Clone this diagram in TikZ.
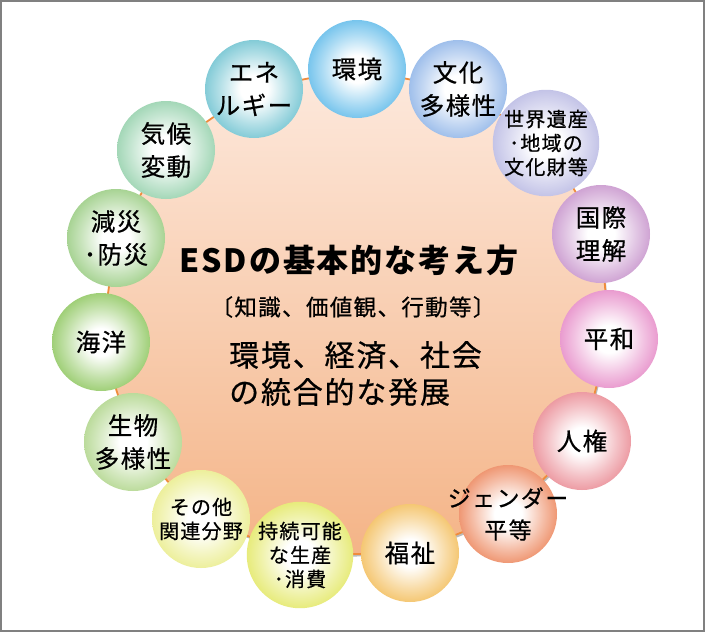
\documentclass[tikz,border=0pt]{standalone}
\usepackage{fontspec}
\newfontfamily\jp[LetterSpace=6]{Noto Sans CJK JP}
\newfontfamily\jpm[LetterSpace=6,FakeBold=0.6]{Noto Sans CJK JP}
\colorlet{ballc}{white}
\pgfdeclareradialshading[ballc]{myball}{\pgfpoint{0bp}{0bp}}{color(0bp)=(white); color(7bp)=(white); color(18bp)=(ballc!50!white); color(27bp)=(ballc!88!white); color(33bp)=(ballc); color(50bp)=(ballc)}
\definecolor{k1}{RGB}{85,182,232}
\definecolor{k2}{RGB}{135,175,230}
\definecolor{k3}{RGB}{180,180,225}
\definecolor{k4}{RGB}{195,140,200}
\definecolor{k5}{RGB}{228,130,195}
\definecolor{k6}{RGB}{232,130,140}
\definecolor{k7}{RGB}{235,125,80}
\definecolor{k8}{RGB}{242,185,80}
\definecolor{k9}{RGB}{225,230,90}
\definecolor{k10}{RGB}{232,235,130}
\definecolor{k11}{RGB}{170,210,130}
\definecolor{k12}{RGB}{135,195,85}
\definecolor{k13}{RGB}{145,200,120}
\definecolor{k14}{RGB}{140,205,165}
\definecolor{k15}{RGB}{100,190,205}
\definecolor{hubline}{RGB}{240,140,60}
\definecolor{hubtop}{RGB}{253,233,221}
\definecolor{hubbot}{RGB}{244,180,135}
\definecolor{framec}{RGB}{128,128,128}
\tikzset{
  ball/.style={circle, minimum size=98pt, inner sep=0pt, shade, shading=myball,
    align=center, font=\jpm\fontsize{24.5}{33}\selectfont},
  smalltext/.style={font=\jpm\fontsize{20}{24}\selectfont},
  bc/.code={\colorlet{ballc}{#1}},
  hub/.style={draw=hubline, line width=1.8pt, top color=hubtop, bottom color=hubbot, line join=round},
  hubshadow/.style={fill=black!45, opacity=0.6, transform canvas={shift={(1.5pt,-2.5pt)}}},
  frame/.style={draw=framec, line width=2pt}
}
\begin{document}
\begin{tikzpicture}[x=1pt,y=-1pt]
\useasboundingbox (0,0) rectangle (705,632);
\fill[white] (0,0) rectangle (705,632);
\draw[frame] (1,1) rectangle (704,631);
\coordinate (c1) at (357,69);
\coordinate (c2) at (458,89);
\coordinate (c3) at (546,143);
\coordinate (c4) at (601,234);
\coordinate (c5) at (609,339);
\coordinate (c6) at (582,441);
\coordinate (c7) at (508,514);
\coordinate (c8) at (410,553);
\coordinate (c9) at (300,555);
\coordinate (c10) at (201,519);
\coordinate (c11) at (133,442);
\coordinate (c12) at (101,342);
\coordinate (c13) at (116,238);
\coordinate (c14) at (166,150);
\coordinate (c15) at (254,89);
\fill[hubshadow] (c1) -- (c2) -- (c3) -- (c4) -- (c5) -- (c6) -- (c7) -- (c8) -- (c9) -- (c10) -- (c11) -- (c12) -- (c13) -- (c14) -- (c15) -- cycle;
\path[hub] (c1) -- (c2) -- (c3) -- (c4) -- (c5) -- (c6) -- (c7) -- (c8) -- (c9) -- (c10) -- (c11) -- (c12) -- (c13) -- (c14) -- (c15) -- cycle;
\node[ball, bc=k1] (n1) at (c1) {環境};
\node[ball, bc=k2] (n2) at (c2) {文化\\多様性};
\node[ball, bc=k3, smalltext] (n3) at (c3) {世界遺産\\･地域の\\文化財等};
\node[ball, bc=k4] (n4) at (c4) {国際\\理解};
\node[ball, bc=k5] (n5) at (c5) {平和};
\node[ball, bc=k6] (n6) at (c6) {人権};
\node[ball, bc=k7, font=\jpm\fontsize{23}{32}\selectfont] (n7) at (c7) {\makebox[0pt][c]{ジェンダー}\\平等};
\node[ball, bc=k8] (n8) at (c8) {福祉};
\node[ball, bc=k9, smalltext] (n9) at (c9) {持続可能\\な生産\\･消費};
\node[ball, bc=k10, smalltext] (n10) at (c10) {その他\\関連分野};
\node[ball, bc=k11] (n11) at (c11) {生物\\多様性};
\node[ball, bc=k12] (n12) at (c12) {海洋};
\node[ball, bc=k13] (n13) at (c13) {減災\\･防災};
\node[ball, bc=k14] (n14) at (c14) {気候\\変動};
\node[ball, bc=k15] (n15) at (c15) {エネ\\ルギー};
\node[font=\jp\bfseries\fontsize{32}{32}\selectfont] (title) at (349,260) {ESDの基本的な考え方};
\node[font=\jpm\fontsize{22.5}{22.5}\selectfont] (sub) at (353,307) {〔知識、価値観、行動等〕};
\node[anchor=west, align=left, inner sep=0pt, font=\jpm\fontsize{30}{37}\selectfont] (goal) at (229,373.5) {環境、経済、社会\\の統合的な発展};
\end{tikzpicture}
\end{document}
